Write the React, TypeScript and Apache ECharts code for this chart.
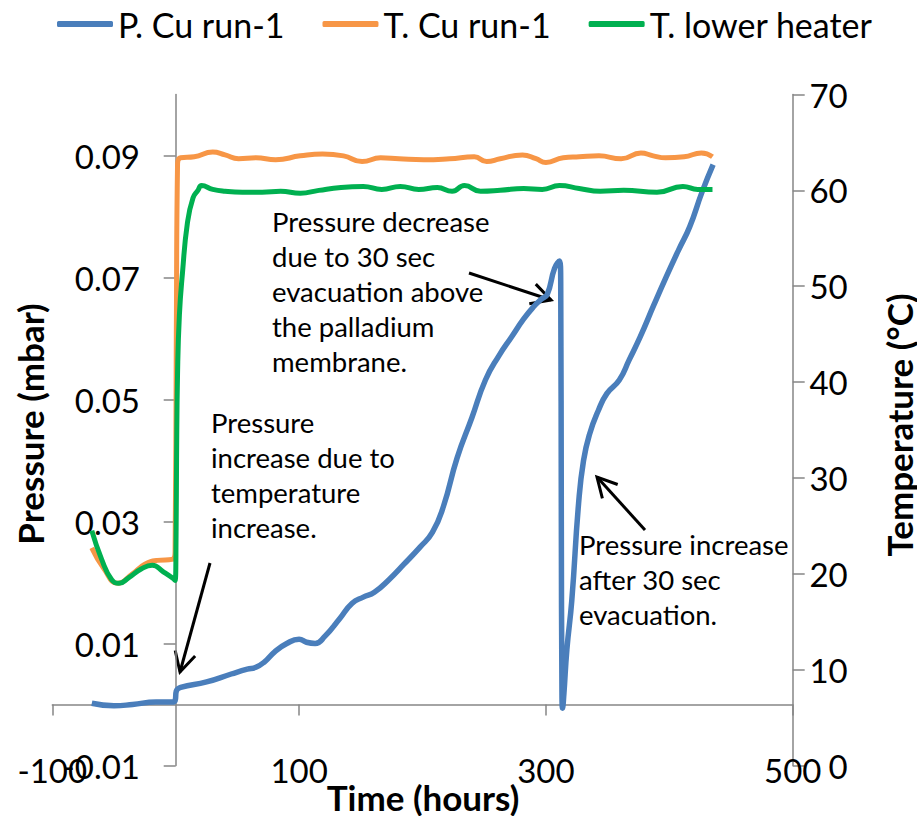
import React, { useEffect, useRef } from "react";
import * as echarts from "echarts";

// ---- data ----
const seriesNames = ["P. Cu run-1", "T. Cu run-1", "T. lower heater"];

const pTime = [-68, -50, -35, -16, -3, -0.5, 0.5, 4, 25, 45, 58, 65, 72, 80, 90, 100, 106, 113, 121, 133, 143, 152, 161, 173, 185, 198, 208, 217, 228, 240, 251, 262, 272, 282, 290, 296, 301, 307, 311, 312, 312.5, 313, 313.5, 314.5, 317, 321, 326.5, 330.5, 335.5, 342.5, 349.5, 359.5, 367.5, 376.5, 387.5, 397.5, 407.5, 416.5, 426.5, 435.5];
const pValue = [0.0002, -0.0002, 0.0, 0.0004, 0.0004, 0.0006, 0.0022, 0.0028, 0.0037, 0.005, 0.0058, 0.0061, 0.007, 0.0086, 0.01, 0.0107, 0.0102, 0.01, 0.0112, 0.0141, 0.0166, 0.0176, 0.0184, 0.0205, 0.023, 0.0258, 0.0282, 0.0325, 0.0404, 0.047, 0.0532, 0.0572, 0.0602, 0.0632, 0.0652, 0.0664, 0.0672, 0.0715, 0.0727, 0.0695, 0.03, 0.002, -0.0006, 0.0015, 0.009, 0.0171, 0.033, 0.04, 0.0444, 0.0482, 0.051, 0.0532, 0.0565, 0.0603, 0.0655, 0.0701, 0.0745, 0.0783, 0.084, 0.0885];

const tCuTime = [-68, -58, -47, -35, -25, -15, -3, -0.5, 0.5, 1.5, 4, 15, 30, 40, 51, 65, 81, 101, 119, 136, 151, 166, 181, 201, 222, 242, 252, 263, 281, 292, 300, 314, 327, 343, 361, 377, 387, 397, 412, 426, 435];
const tCuValue = [22.7, 20.5, 19.0, 20.0, 21.0, 21.4, 21.5, 22.3, 45, 62.8, 63.4, 63.5, 64.0, 63.7, 63.3, 63.4, 63.2, 63.6, 63.8, 63.6, 63.0, 63.4, 63.3, 63.2, 63.3, 63.5, 63.0, 63.3, 63.7, 63.3, 62.9, 63.4, 63.5, 63.6, 63.3, 63.9, 63.6, 63.4, 63.5, 63.9, 63.5];

const tHtTime = [-68, -60, -52, -46, -38, -28, -19, -10, -2, -0.5, 0.3, 0.7, 1.5, 3, 5.5, 9.5, 14, 18, 21, 30, 40, 54, 70, 85, 101, 116, 134, 152, 167, 182, 197, 212, 224, 234, 247, 263, 282, 297, 311, 327, 344, 363, 390, 411, 423, 435];
const tHtValue = [24.5, 21.5, 19.4, 19.0, 19.6, 20.5, 20.9, 20.2, 19.5, 19.3, 24, 32, 40.9, 47, 51.4, 56.6, 59.2, 60.0, 60.5, 60.1, 59.9, 59.8, 59.8, 59.9, 59.7, 60.0, 60.3, 60.4, 60.1, 60.4, 60.1, 60.3, 59.9, 60.5, 59.9, 60.0, 60.2, 60.1, 60.5, 60.2, 59.9, 60.0, 59.8, 60.4, 60.1, 60.1];

const timeTicks = [-100, 100, 300, 500];
const pressureTicks = [-0.01, 0.01, 0.03, 0.05, 0.07, 0.09];
const tempTicks = [0, 10, 20, 30, 40, 50, 60, 70];

const xTitle = "Time (hours)";
const yLeftTitle = "Pressure (mbar)";
const yRightTitle = "Temperature (°C)";

const note1 = "Pressure\nincrease due to\ntemperature\nincrease.";
const note2 = "Pressure decrease\ndue to 30 sec\nevacuation above\nthe palladium\nmembrane.";
const note3 = "Pressure increase\nafter 30 sec\nevacuation.";

const zip = (xs: number[], ys: number[]) => xs.map((x, i) => [x, ys[i]]);

const FONT = "Lato, 'Open Sans', sans-serif";
const AXIS_COLOR = "#868686";

function arrow(x1: number, y1: number, x2: number, y2: number) {
  const ang = Math.atan2(y2 - y1, x2 - x1);
  const len = 22;
  const a = (28 * Math.PI) / 180;
  const h1 = [x2 - len * Math.cos(ang - a), y2 - len * Math.sin(ang - a)];
  const h2 = [x2 - len * Math.cos(ang + a), y2 - len * Math.sin(ang + a)];
  return [
    { type: "line", shape: { x1, y1, x2, y2 }, style: { stroke: "#000", lineWidth: 3 }, silent: true },
    { type: "polyline", shape: { points: [h1, [x2, y2], h2] }, style: { stroke: "#000", lineWidth: 3, fill: null }, silent: true },
  ];
}

export default function App() {
  const ref = useRef<HTMLDivElement>(null);
  useEffect(() => {
    if (!ref.current) return;
    const chart = echarts.init(ref.current, null, { renderer: "svg" });
    const noteStyle = { fill: "#000", font: `27.5px ${FONT}`, lineHeight: 35, align: "left", verticalAlign: "top" };
    const titleFont = `bold 35px ${FONT}`;
    chart.setOption({
      animation: false,
      backgroundColor: "#fff",
      textStyle: { fontFamily: FONT },
      legend: {
        data: seriesNames,
        left: 52,
        top: 2,
        icon: "roundRect",
        itemWidth: 56,
        itemHeight: 6,
        itemGap: 38,
        textStyle: { fontSize: 34, color: "#000", fontFamily: FONT },
      },
      grid: { left: 52.3, right: 124.3, top: 94.5, bottom: 50.5, containLabel: false, outerBoundsMode: "none" },
      xAxis: {
        type: "value",
        min: -100,
        max: 500,
        interval: 200,
        axisLine: { show: true, onZero: true, onZeroAxisIndex: 0, lineStyle: { color: AXIS_COLOR, width: 1.5 } },
        axisTick: { show: true, length: 11, customValues: timeTicks, lineStyle: { color: AXIS_COLOR, width: 1.5 } },
        axisLabel: { customValues: timeTicks, margin: 4.5, verticalAlign: "middle", fontSize: 33, color: "#000", fontFamily: FONT },
        splitLine: { show: false },
      },
      yAxis: [
        {
          type: "value",
          min: -0.01,
          max: 0.1,
          interval: 0.02,
          axisLine: { show: true, onZero: true, onZeroAxisIndex: 0, lineStyle: { color: AXIS_COLOR, width: 1.5 } },
          axisTick: { show: true, length: 12, customValues: pressureTicks, lineStyle: { color: AXIS_COLOR, width: 1.5 } },
          axisLabel: {
            customValues: pressureTicks,
            margin: -87.7,
            align: "right",
            fontSize: 33,
            color: "#000",
            fontFamily: FONT,
            formatter: (v: number) => v.toFixed(2),
          },
          splitLine: { show: false },
        },
        {
          type: "value",
          position: "right",
          min: 0,
          max: 70,
          interval: 10,
          axisLine: { show: true, onZero: false, lineStyle: { color: AXIS_COLOR, width: 1.5 } },
          axisTick: { show: true, length: 12, customValues: tempTicks, lineStyle: { color: AXIS_COLOR, width: 1.5 } },
          axisLabel: { customValues: tempTicks, margin: 55, align: "right", fontSize: 33, color: "#000", fontFamily: FONT },
          splitLine: { show: false },
        },
      ],
      series: [
        {
          name: seriesNames[0],
          type: "line",
          yAxisIndex: 0,
          data: zip(pTime, pValue),
          symbol: "none",
          smooth: 0.5,
          lineStyle: { width: 5.5, color: "#4A7EBB" },
          itemStyle: { color: "#4A7EBB" },
        },
        {
          name: seriesNames[1],
          type: "line",
          yAxisIndex: 1,
          data: zip(tCuTime, tCuValue),
          symbol: "none",
          smooth: 0.5,
          lineStyle: { width: 5, color: "#F79646" },
          itemStyle: { color: "#F79646" },
        },
        {
          name: seriesNames[2],
          type: "line",
          yAxisIndex: 1,
          data: zip(tHtTime, tHtValue),
          symbol: "none",
          smooth: 0.5,
          lineStyle: { width: 5, color: "#00B050" },
          itemStyle: { color: "#00B050" },
        },
      ],
      graphic: [
        { type: "text", x: 423, y: 797, style: { text: xTitle, fill: "#000", font: titleFont, align: "center", verticalAlign: "middle" } },
        { type: "text", x: 30, y: 424, rotation: Math.PI / 2, style: { text: yLeftTitle, fill: "#000", font: titleFont, align: "center", verticalAlign: "middle" } },
        { type: "text", x: 899, y: 425, rotation: Math.PI / 2, style: { text: yRightTitle, fill: "#000", font: titleFont, align: "center", verticalAlign: "middle" } },
        { type: "text", x: 211, y: 405, style: { text: note1, ...noteStyle } },
        { type: "text", x: 272, y: 204, style: { text: note2, ...noteStyle } },
        { type: "text", x: 579, y: 527, style: { text: note3, ...noteStyle } },
        ...arrow(210, 563, 180, 672),
        ...arrow(469, 273, 551, 300),
        ...arrow(645, 530, 597, 477),
      ],
    });
    return () => chart.dispose();
  }, []);
  return <div ref={ref} style={{ position: "fixed", left: 0, top: 0, width: 917, height: 816 }} />;
}
